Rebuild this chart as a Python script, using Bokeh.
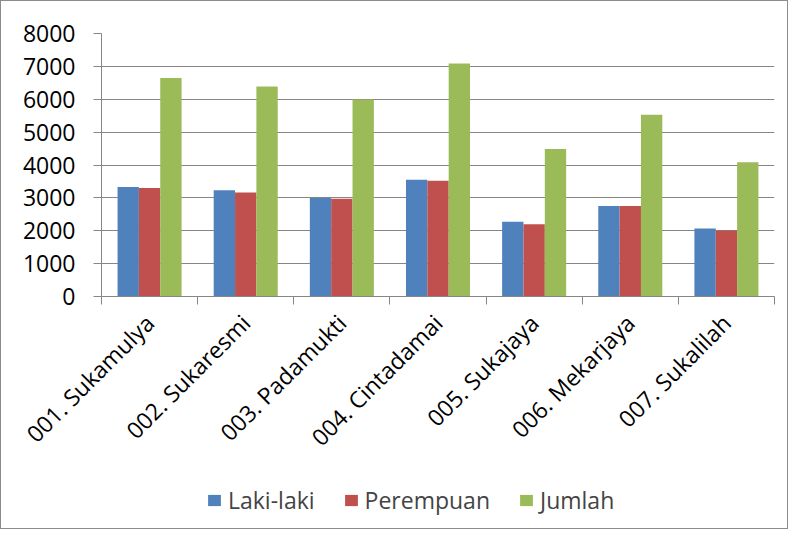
import math
from bokeh.plotting import figure
from bokeh.layouts import column
from bokeh.models import FixedTicker, Legend, LegendItem, ColumnDataSource
from bokeh.transform import dodge
from bokeh.embed import file_html
from bokeh.resources import INLINE

categories = ["001. Sukamulya", "002. Sukaresmi", "003. Padamukti", "004. Cintadamai",
              "005. Sukajaya", "006. Mekarjaya", "007. Sukalilah"]
laki = [3330, 3230, 3000, 3550, 2270, 2750, 2070]
perempuan = [3300, 3160, 2970, 3520, 2200, 2750, 2010]
jumlah = [6650, 6390, 5990, 7090, 4490, 5530, 4080]
series_names = ["Laki-laki", "Perempuan", "Jumlah"]
colors = ["#4F81BD", "#C0504D", "#9BBB59"]
y_ticks = [0, 1000, 2000, 3000, 4000, 5000, 6000, 7000, 8000]

centers = [i + 0.5 for i in range(len(categories))]
bounds = list(range(len(categories) + 1))
src = ColumnDataSource(dict(x=centers, laki=laki, perempuan=perempuan, jumlah=jumlah))

FONT = "Open Sans"
GRAY = "#868686"
FS = "23px"

p = figure(frame_width=673, frame_height=263, x_range=(0, len(categories)), y_range=(0, 8000),
           output_backend="svg", toolbar_location=None,
           min_border_left=100, min_border_right=13, min_border_top=32, min_border_bottom=165)

bw = 0.222
for k, (col, c) in enumerate(zip(["laki", "perempuan", "jumlah"], colors)):
    p.vbar(x=dodge("x", (k - 1) * bw, range=p.x_range), top=col, width=bw,
           source=src, fill_color=c, line_color=None)

p.outline_line_color = None
p.xgrid.visible = False
p.ygrid.grid_line_color = GRAY
p.ygrid.grid_line_width = 1

p.yaxis.ticker = FixedTicker(ticks=y_ticks)
p.yaxis.axis_line_color = GRAY
p.yaxis.major_tick_line_color = GRAY
p.yaxis.major_tick_out = 8
p.yaxis.major_tick_in = 0
p.yaxis.minor_tick_line_color = None
p.yaxis.major_label_text_font = FONT
p.yaxis.major_label_text_font_size = FS
p.yaxis.major_label_text_color = "black"
p.yaxis.major_label_standoff = 18

p.xaxis.ticker = FixedTicker(ticks=centers, minor_ticks=bounds)
p.xaxis.major_label_overrides = {c: n for c, n in zip(centers, categories)}
p.xaxis.axis_line_color = GRAY
p.xaxis.major_tick_line_color = None
p.xaxis.minor_tick_line_color = GRAY
p.xaxis.minor_tick_out = 8
p.xaxis.minor_tick_in = 0
p.xaxis.major_label_orientation = math.pi / 4
p.xaxis.major_label_text_font = FONT
p.xaxis.major_label_text_font_size = FS
p.xaxis.major_label_text_color = "black"
p.xaxis.major_label_standoff = 14

# legend strip below the chart (zero-size swatch renderers only feed the legend)
lg = figure(width=786, height=62, x_range=(0, 1), y_range=(0, 1),
            output_backend="svg", toolbar_location=None,
            x_axis_location=None, y_axis_location=None,
            min_border=0, min_border_left=0, min_border_right=0, min_border_top=0, min_border_bottom=0)
lg.grid.visible = False
lg.outline_line_color = None
swatches = []
for n, c in zip(series_names, colors):
    swatches.append(lg.vbar(x=[0], top=[0], bottom=[0], width=0, fill_color=c, line_color=None))

legend = Legend(items=[LegendItem(label=n, renderers=[r]) for n, r in zip(series_names, swatches)],
                orientation="horizontal", location=(105, 12),
                label_text_font=FONT, label_text_font_size=FS,
                glyph_width=16, glyph_height=14, label_standoff=6, spacing=28,
                border_line_color=None, background_fill_alpha=0, margin=0, padding=0)
lg.add_layout(legend, "center")

layout = column(p, lg, spacing=0)
layout.styles = {"border": "1px solid #8c8c8c"}

open("out.html", "w").write(file_html(layout, INLINE))
